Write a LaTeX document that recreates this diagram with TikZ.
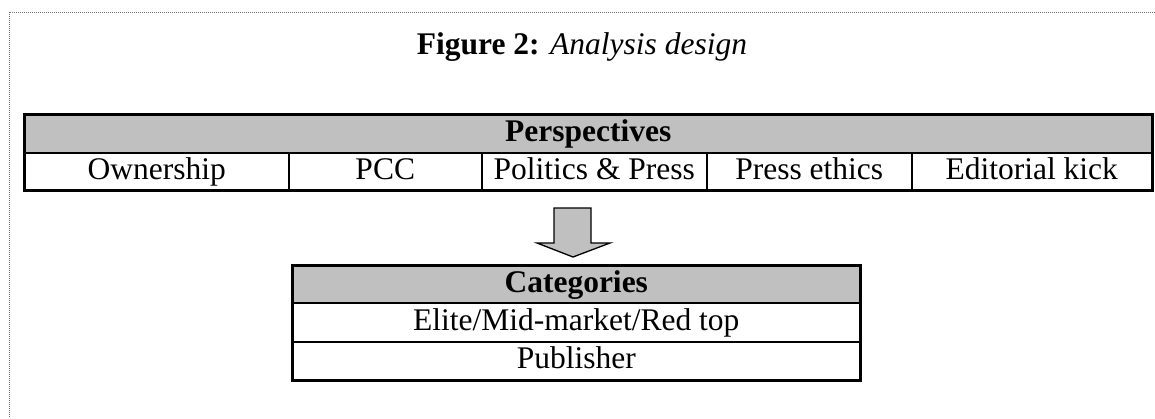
\documentclass[tikz,border=0pt]{standalone}
\usepackage{fontspec}
\setmainfont{Liberation Serif}
\definecolor{cellgray}{HTML}{C0C0C0}
\definecolor{framegray}{HTML}{707070}
\begin{document}
\begin{tikzpicture}[x=1pt,y=-1pt,
  every node/.style={font=\fontsize{31.5}{36}\selectfont},
  cell/.style={draw=black,line width=1.5pt,inner sep=0pt,anchor=north west,
    text height=22pt,text depth=6pt},
  headcell/.style={cell,fill=cellgray,font=\fontsize{31.5}{36}\selectfont\bfseries},
  frameline/.style={draw=framegray,line width=1pt,densely dotted},
  blockarrow/.style={draw=black,fill=cellgray,line width=1.3pt,line join=miter}]
\useasboundingbox (0,0) rectangle (1155,418);

% page frame
\draw[frameline] (1155,12) -- (9,12) -- (9,418);

% title
\node (title) at (582,47) {\textbf{Figure 2:} \textit{Analysis design}};

% perspectives table
\node[headcell,minimum width=1127pt,minimum height=38pt] (persp) at (24,114) {Perspectives};
\node[cell,minimum width=264pt,minimum height=37pt] (own) at (24,152) {Ownership};
\node[cell,minimum width=193pt,minimum height=37pt] (pcc) at (288,152) {PCC};
\node[cell,minimum width=225pt,minimum height=37pt] (pol) at (481,152) {Politics \& Press};
\node[cell,minimum width=205pt,minimum height=37pt] (eth) at (706,152) {Press ethics};
\node[cell,minimum width=240pt,minimum height=37pt] (edk) at (911,152) {Editorial kick};
\draw[line width=2pt] (persp.north west) rectangle (edk.south east);

% categories table
\node[headcell,minimum width=567pt,minimum height=37pt] (cat) at (292,265) {Categories};
\node[cell,minimum width=567pt,minimum height=39pt] (tier) at (292,302) {Elite/Mid-market/Red top};
\node[cell,minimum width=567pt,minimum height=38pt] (pub) at (292,341) {Publisher};
\draw[line width=2pt] (cat.north west) rectangle (pub.south east);

% block arrow between the tables
\coordinate (tip) at (573,257);
\draw[blockarrow] (554,208) -- (591,208) -- (591,243) -- (610,243) -- (tip)
  -- (537,243) -- (554,243) -- cycle;
\end{tikzpicture}
\end{document}
